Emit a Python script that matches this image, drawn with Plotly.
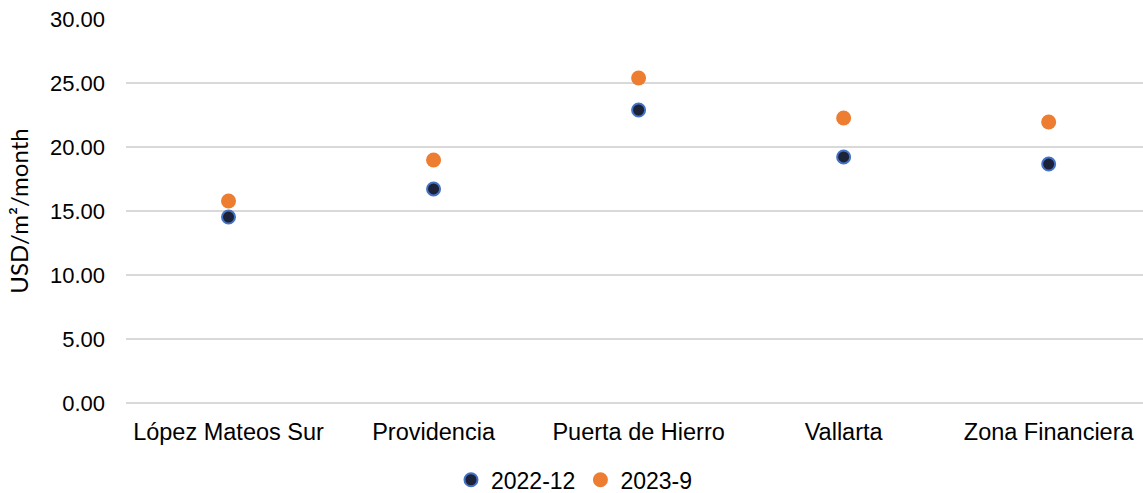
import plotly.graph_objects as go

# Rent levels by submarket (USD per m² per month)
categories = ["López Mateos Sur", "Providencia", "Puerta de Hierro", "Vallarta", "Zona Financiera"]
rent_2022_12 = [14.53, 16.72, 22.89, 19.22, 18.67]
rent_2023_9 = [15.78, 18.98, 25.39, 22.27, 21.95]
y_ticks = [0, 5, 10, 15, 20, 25, 30]

fig = go.Figure()
fig.add_trace(go.Scatter(
    x=categories, y=rent_2022_12, name="2022-12", mode="markers",
    marker=dict(size=13, color="#1C2237", line=dict(color="#4472C4", width=2)),
))
fig.add_trace(go.Scatter(
    x=categories, y=rent_2023_9, name="2023-9", mode="markers",
    marker=dict(size=15, color="#ED7D31", line=dict(width=0)),
))

x_font = dict(family="Liberation Sans, Arial, sans-serif", size=23.5, color="#000000")
y_font = dict(family="Liberation Sans, Arial, sans-serif", size=22, color="#000000")
legend_font = dict(family="Liberation Sans, Arial, sans-serif", size=23, color="#000000")

fig.update_layout(
    width=1143, height=493,
    margin=dict(l=126, r=0, t=19, b=90, autoexpand=False),
    paper_bgcolor="white", plot_bgcolor="white",
    showlegend=True,
    legend=dict(
        orientation="h", x=0.441, xanchor="center",
        y=-0.20, yanchor="middle", font=legend_font,
        bgcolor="rgba(0,0,0,0)",
    ),
    xaxis=dict(
        type="category", range=[-0.5, 4.46], showgrid=False, zeroline=False,
        showline=False, tickfont=x_font, ticks="", ticklabelstandoff=12,
        tickangle=0, automargin=False, fixedrange=True,
    ),
    yaxis=dict(
        range=[0, 30], tickvals=y_ticks, tickformat=".2f", showgrid=True,
        gridcolor="#D9D9D9", gridwidth=1.5, zeroline=True, zerolinecolor="#D9D9D9",
        zerolinewidth=1.5, showline=False, tickfont=y_font, ticks="",
        ticklabelstandoff=20, automargin=False,
        title=dict(text="USD/m²/month", font=dict(family="Lato, Carlito, sans-serif",
                                                size=24, color="#000000"), standoff=14),
    ),
)

fig.write_html("out.html")
